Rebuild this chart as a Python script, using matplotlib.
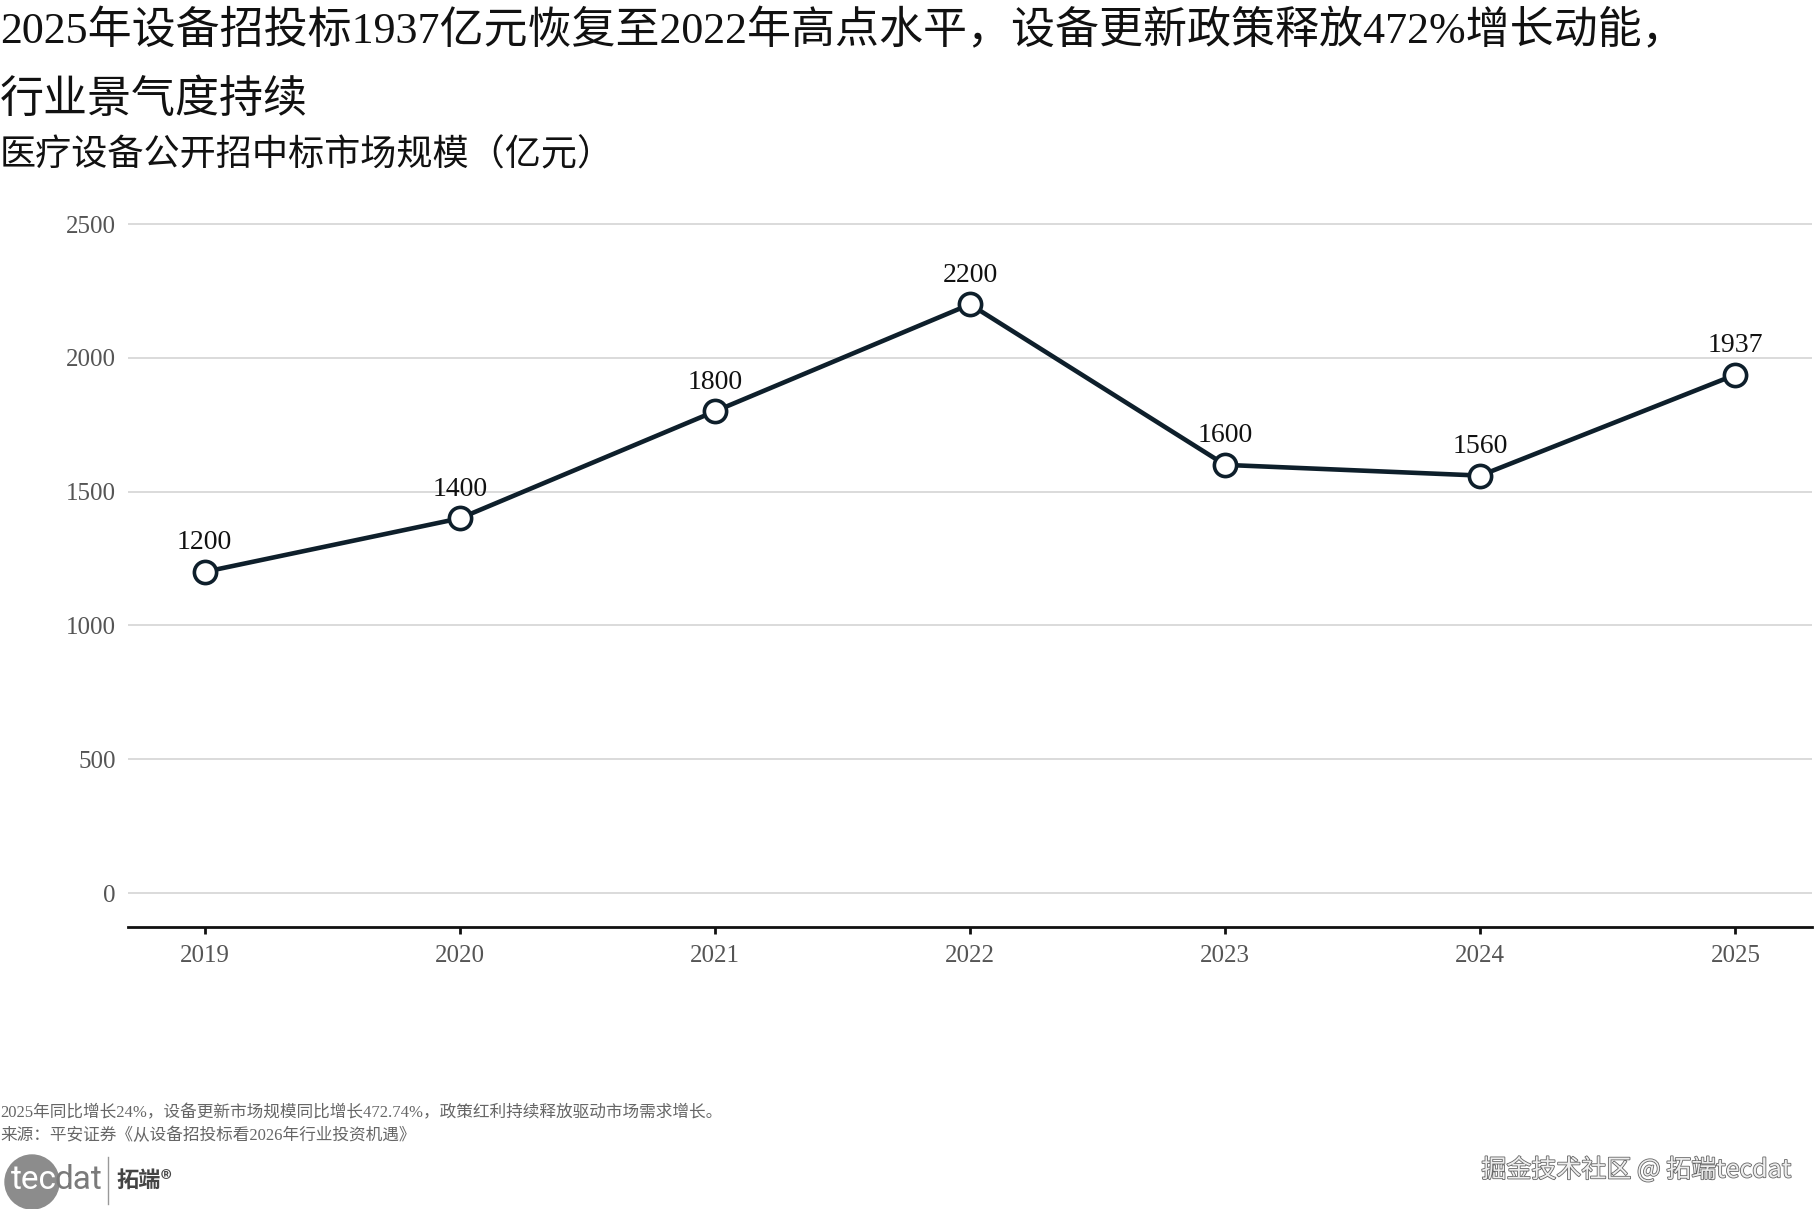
import matplotlib
matplotlib.use("Agg")
from matplotlib import pyplot as plt
from matplotlib.patches import Circle
import matplotlib.patheffects as pe

plt.rcParams['font.family'] = ['Liberation Serif', 'Noto Sans CJK SC', 'DejaVu Sans']

# data
years = [2019, 2020, 2021, 2022, 2023, 2024, 2025]
market_size = [1200, 1400, 1800, 2200, 1600, 1560, 1937]
y_ticks = [0, 500, 1000, 1500, 2000, 2500]

title_1 = "2025年设备招投标1937亿元恢复至2022年高点水平，设备更新政策释放472%增长动能，"
title_2 = "行业景气度持续"
subtitle = "医疗设备公开招中标市场规模（亿元）"
note = "2025年同比增长24%，设备更新市场规模同比增长472.74%，政策红利持续释放驱动市场需求增长。"
source = "来源：平安证券《从设备招投标看2026年行业投资机遇》"

W, H = 1814, 1209
fig = plt.figure(figsize=(W / 100, H / 100), dpi=100)
ax = fig.add_axes([128 / W, 1 - 927 / H, (1812 - 128) / W, (927 - 208) / H])

line_color = "#0e1f2b"
ax.plot(years, market_size, color=line_color, linewidth=3.3, marker="o",
        markersize=16, markerfacecolor="white", markeredgecolor=line_color,
        markeredgewidth=2.6, zorder=3, clip_on=False)

for x, y in zip(years, market_size):
    ax.annotate(str(y), (x, y), xytext=(0, 12), textcoords="offset points",
                ha="center", va="bottom", fontsize=20, color="#111111")

ax.set_xlim(2018.7, 2025.3)
ax.set_ylim(-127, 2560)
ax.set_xticks(years)
ax.set_yticks(y_ticks)
ax.grid(axis="y", color="#d4d4d4", linewidth=1.2)
ax.set_axisbelow(True)

for side in ["top", "right", "left"]:
    ax.spines[side].set_visible(False)
ax.spines["bottom"].set_linewidth(2)
ax.spines["bottom"].set_color("#111111")

ax.tick_params(axis="y", length=0, pad=9, labelsize=18, labelcolor="#555555")
ax.tick_params(axis="x", length=5, width=2, color="#111111", pad=8,
               labelsize=18, labelcolor="#555555")

# titles
fig.text(0, 1 - 10 / H, title_1, fontsize=31.7, va="top", ha="left", color="#111111")
fig.text(0, 1 - 79 / H, title_2, fontsize=31.7, va="top", ha="left", color="#111111")
fig.text(0, 1 - 139 / H, subtitle, fontsize=26, va="top", ha="left", color="#111111")

# footnotes
fig.text(0, 1 - 1113 / H, note, fontsize=12, va="center", ha="left", color="#666666")
fig.text(0, 1 - 1136 / H, source, fontsize=12, va="center", ha="left", color="#666666")

# logo bottom left
logo = fig.add_axes([0, 0, 1, 1], facecolor="none")
logo.set_xlim(0, W)
logo.set_ylim(H, 0)
logo.axis("off")
logo.add_patch(Circle((32, 1182), 27, color="#8c8c8c", zorder=1))
logo_font = ["Liberation Sans Narrow", "Roboto"]
logo.text(11, 1180, "tec", fontsize=24, family=logo_font, color="white",
          va="center", ha="left", zorder=2)
logo.text(55, 1180, "dat", fontsize=24, family=logo_font, color="#7a7a7a",
          va="center", ha="left", zorder=2)
logo.plot([108, 108], [1157, 1204], color="#999999", linewidth=1)
logo.text(116, 1180, "拓端®", fontsize=16, family=["Noto Sans CJK SC", "DejaVu Sans"],
          weight="bold", color="#444444", va="center", ha="left")

# watermark bottom right
logo.text(1791, 1170, "掘金技术社区 @ 拓端tecdat", fontsize=18,
          family=["Noto Sans CJK SC", "DejaVu Sans"], color="#eeeeee",
          va="center", ha="right",
          path_effects=[pe.withStroke(linewidth=1.2, foreground="#666666")])

fig.savefig("out.png", dpi=100)
